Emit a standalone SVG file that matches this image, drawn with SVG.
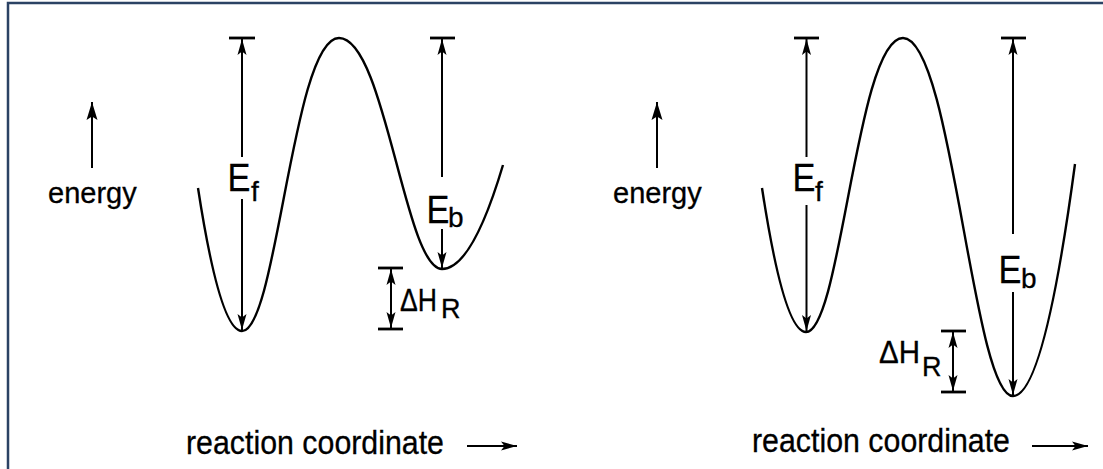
<svg xmlns="http://www.w3.org/2000/svg" width="1103" height="469" viewBox="0 0 1103 469">
<style>
.t{font-family:"Liberation Sans",Arial,sans-serif;fill:#000;stroke:#000;stroke-width:0.3}
.curve{fill:none;stroke:#000;stroke-width:2.4}
.ln{fill:none;stroke:#000;stroke-width:2}
.bar{fill:none;stroke:#000;stroke-width:2.8}
</style>
<defs>
<marker id="ah" viewBox="0 0 16 10" refX="16" refY="5" markerWidth="16" markerHeight="10" orient="auto-start-reverse" markerUnits="userSpaceOnUse">
<path d="M0,0.5 L16,5 L0,9.5 L3.5,5 z" fill="#000"/>
</marker>
<marker id="ahb" viewBox="0 0 18 12" refX="18" refY="6" markerWidth="18" markerHeight="12" orient="auto-start-reverse" markerUnits="userSpaceOnUse">
<path d="M0,0.5 L18,6 L0,11.5 L3.5,6 z" fill="#000"/>
</marker>
</defs>
<rect width="1103" height="469" fill="#fff"/>
<path d="M8,469 L8,3 L1103,3" fill="none" stroke="#2b4264" stroke-width="2.5"/>

<!-- Left panel -->
<g id="left-curve">
<path class="curve" d="M198,188 Q220,331 242,331 C277,331 293,38 339,38 C385,38 405,269 442,269 Q472,269 503,165"/>
</g>
<g id="left-energy-label">
<text class="t" x="48" y="203" font-size="29">energy</text>
</g>
<g id="left-reaction-label">
<text class="t" x="186" y="454" font-size="33" textLength="258" lengthAdjust="spacingAndGlyphs">reaction  coordinate</text>
</g>
<g id="left-Ef-label">
<text class="t" x="227.5" y="191" font-size="39" transform="translate(227.5,0) scale(0.88,1) translate(-227.5,0)">E</text>
<text class="t" x="251" y="201" font-size="28">f</text>
</g>
<g id="left-Eb-label">
<text class="t" x="426.5" y="223" font-size="39" transform="translate(426.5,0) scale(0.88,1) translate(-426.5,0)">E</text>
<text class="t" x="448" y="227" font-size="28">b</text>
</g>
<g id="left-dH-label">
<text class="t" x="400" y="311" font-size="31" textLength="37" lengthAdjust="spacingAndGlyphs">ΔH</text>
<text class="t" x="441" y="318" font-size="27">R</text>
</g>

<!-- Right panel -->
<g id="right-curve">
<path class="curve" d="M762,188 Q784,332 806,332 C841,332 857,38 903,38 C952,38 973,396 1013,396 Q1044,396 1075,164"/>
</g>
<g id="right-energy-label">
<text class="t" x="613" y="203" font-size="29">energy</text>
</g>
<g id="right-reaction-label">
<text class="t" x="752" y="452" font-size="33" textLength="258" lengthAdjust="spacingAndGlyphs">reaction  coordinate</text>
</g>
<g id="right-Ef-label">
<text class="t" x="792.5" y="191" font-size="39" transform="translate(792.5,0) scale(0.88,1) translate(-792.5,0)">E</text>
<text class="t" x="815" y="201" font-size="28">f</text>
</g>
<g id="right-Eb-label">
<text class="t" x="998.5" y="283.5" font-size="39" transform="translate(998.5,0) scale(0.88,1) translate(-998.5,0)">E</text>
<text class="t" x="1021" y="288" font-size="28">b</text>
</g>
<g id="right-dH-label">
<text class="t" x="879" y="363" font-size="31" textLength="41" lengthAdjust="spacingAndGlyphs">ΔH</text>
<text class="t" x="922" y="376" font-size="27">R</text>
</g>

<g id="connectors">
<!-- left -->
<line class="ln" x1="92" y1="168" x2="92" y2="102" stroke-width="2.3" marker-end="url(#ahb)"/>
<line class="ln" x1="467" y1="446" x2="517" y2="446" stroke-width="3" marker-end="url(#ah)"/>
<line class="bar" x1="229" y1="38" x2="255" y2="38"/>
<line class="ln" x1="242" y1="157" x2="242" y2="39" marker-end="url(#ah)"/>
<line class="ln" x1="242" y1="199" x2="242" y2="330" marker-end="url(#ah)"/>
<line class="bar" x1="430" y1="38" x2="455" y2="38"/>
<line class="ln" x1="442" y1="177" x2="442" y2="39" marker-end="url(#ah)"/>
<line class="ln" x1="442" y1="229" x2="442" y2="268" marker-end="url(#ah)"/>
<line class="bar" x1="378" y1="268" x2="403" y2="268"/>
<line class="bar" x1="378" y1="329" x2="403" y2="329"/>
<line class="ln" x1="391" y1="269" x2="391" y2="328" marker-start="url(#ah)" marker-end="url(#ah)"/>
<!-- right -->
<line class="ln" x1="657" y1="168" x2="657" y2="102" stroke-width="2.3" marker-end="url(#ahb)"/>
<line class="ln" x1="1032" y1="446" x2="1088" y2="446" stroke-width="2.4" marker-end="url(#ah)"/>
<line class="bar" x1="794" y1="38" x2="819" y2="38"/>
<line class="ln" x1="806.5" y1="157" x2="806.5" y2="39" marker-end="url(#ah)"/>
<line class="ln" x1="806.5" y1="205" x2="806.5" y2="331" marker-end="url(#ah)"/>
<line class="bar" x1="1001" y1="38" x2="1026" y2="38"/>
<line class="ln" x1="1013" y1="234" x2="1013" y2="39" marker-end="url(#ah)"/>
<line class="ln" x1="1013" y1="292" x2="1013" y2="395" marker-end="url(#ah)"/>
<line class="bar" x1="941" y1="331" x2="966" y2="331"/>
<line class="bar" x1="941" y1="392" x2="966" y2="392"/>
<line class="ln" x1="953" y1="332" x2="953" y2="391" marker-start="url(#ah)" marker-end="url(#ah)"/>
</g>
</svg>
